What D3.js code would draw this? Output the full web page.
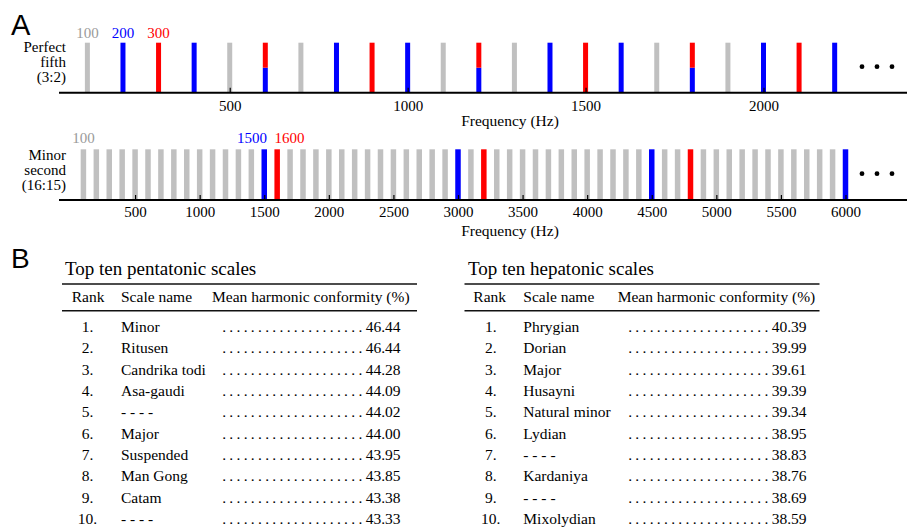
<!DOCTYPE html>
<html>
<head>
<meta charset="utf-8">
<script src="https://cdn.jsdelivr.net/npm/d3@7"></script>
<style>
  body { margin: 0; background: #fff; }
  svg { display: block; }
</style>
</head>
<body>
<div id="container"></div>
<script>
// ---- panel A, perfect fifth (3:2) ----
const topGray = [100, 500, 700, 1100, 1300, 1700, 1900];
const topBlue = [200, 400, 800, 1000, 1400, 1600, 2000, 2200];
const topRed = [300, 900, 1500, 2100];
const topShared = [600, 1200, 1800];
const topTicks = [500, 1000, 1500, 2000];
const topLabels = [100, 200, 300];

// ---- panel A, minor second (16:15) ----
const botGray = [100, 200, 300, 400, 500, 600, 700, 800, 900, 1000, 1100, 1200, 1300, 1400,
  1700, 1800, 1900, 2000, 2100, 2200, 2300, 2400, 2500, 2600, 2700, 2800, 2900,
  3100, 3300, 3400, 3500, 3600, 3700, 3800, 3900, 4000, 4100, 4200, 4300, 4400,
  4600, 4700, 4900, 5000, 5100, 5200, 5300, 5400, 5500, 5600, 5700, 5800, 5900];
const botBlue = [1500, 3000, 4500, 6000];
const botRed = [1600, 3200, 4800];
const botTicks = [500, 1000, 1500, 2000, 2500, 3000, 3500, 4000, 4500, 5000, 5500, 6000];
const botLabels = [100, 1500, 1600];

// ---- panel B tables ----
const ranks = [1, 2, 3, 4, 5, 6, 7, 8, 9, 10];
const pentaNames = ["Minor", "Ritusen", "Candrika todi", "Asa-gaudi", "- - - -",
  "Major", "Suspended", "Man Gong", "Catam", "- - - -"];
const pentaValues = [46.44, 46.44, 44.28, 44.09, 44.02, 44.00, 43.95, 43.85, 43.38, 43.33];
const heptaNames = ["Phrygian", "Dorian", "Major", "Husayni", "Natural minor",
  "Lydian", "- - - -", "Kardaniya", "- - - -", "Mixolydian"];
const heptaValues = [40.39, 39.99, 39.61, 39.39, 39.34, 38.95, 38.83, 38.76, 38.69, 38.59];
const headers = ["Rank", "Scale name", "Mean harmonic conformity (%)"];

const W = 915, H = 529;
const serif = '"Liberation Serif", "Times New Roman", serif';
const sans = '"Liberation Sans", Arial, sans-serif';
const col = { gray: "#c0c0c0", blue: "#0000ff", red: "#ff0000" };
const textCol = { gray: "#9a9a9a", blue: "#0000ff", red: "#ff0000" };
const ink = '#000';

const svg = d3.select('#container').append('svg')
  .attr('width', W).attr('height', H)
  .attr('font-family', serif);

// panel letters
svg.append('text').attr('x', 11).attr('y', 35).attr('font-family', sans)
  .attr('font-size', 29).attr('fill', ink).text('A');
svg.append('text').attr('x', 11).attr('y', 268).attr('font-family', sans)
  .attr('font-size', 28).attr('fill', ink).text('B');

function colorOf(f, blue, red) {
  if (blue.includes(f)) return 'blue';
  if (red.includes(f)) return 'red';
  return 'gray';
}

function drawPanel(p) {
  const g = svg.append('g');
  const x = d3.scaleLinear().domain([0, p.refF]).range([p.x0, p.xRef]);
  const y = d3.scaleLinear().domain([0, 1]).range([p.axisY, p.barTop]);

  g.selectAll('rect.bar')
    .data(p.bars)
    .enter()
    .append('rect')
    .attr('class', 'bar')
    .attr('x', d => x(d.f) - p.barW / 2)
    .attr('y', d => y(d.hi))
    .attr('width', p.barW)
    .attr('height', d => y(d.lo) - y(d.hi))
    .attr('fill', d => col[d.c]);

  // axis, ticks point up into the bars
  const axis = d3.axisBottom(x).tickValues(p.ticks).tickSize(-5)
    .tickPadding(p.pad).tickFormat(d => d);
  const ax = g.append('g')
    .attr('transform', `translate(0,${p.axisY})`)
    .call(axis)
    .attr('font-family', serif)
    .attr('font-size', 15);
  ax.select('.domain').remove();
  ax.selectAll('.tick line').attr('stroke', ink).attr('stroke-width', 1.2);
  ax.selectAll('.tick text').attr('fill', ink);
  g.append('line')
    .attr('x1', 59).attr('x2', 907)
    .attr('y1', p.axisY).attr('y2', p.axisY)
    .attr('stroke', ink).attr('stroke-width', 2);

  // frequency labels above bars
  const side = d => p.sideLabels ? colorOf(d, p.blue, p.red) : 'gray';
  g.selectAll('text.flab')
    .data(p.labels)
    .enter()
    .append('text')
    .attr('class', 'flab')
    .attr('x', d => side(d) === 'blue' ? x(d) + p.barW / 2
      : side(d) === 'red' ? x(d) - p.barW / 2 : x(d))
    .attr('y', p.labelY)
    .attr('text-anchor', d => side(d) === 'blue' ? 'end'
      : side(d) === 'red' ? 'start' : 'middle')
    .attr('font-size', 15)
    .attr('fill', d => textCol[colorOf(d, p.blue, p.red)])
    .text(d => d);

  // interval name
  g.selectAll('text.ylab')
    .data(p.name)
    .enter()
    .append('text')
    .attr('class', 'ylab')
    .attr('x', 66)
    .attr('y', (d, i) => p.nameY + i * 15)
    .attr('text-anchor', 'end')
    .attr('font-size', 15)
    .attr('fill', ink)
    .text(d => d);

  g.append('text')
    .attr('x', 510).attr('y', p.titleY)
    .attr('text-anchor', 'middle')
    .attr('font-size', 15.5)
    .attr('fill', ink)
    .text('Frequency (Hz)');

  // continuation dots
  g.selectAll('circle')
    .data([862, 877, 892])
    .enter()
    .append('circle')
    .attr('cx', d => d)
    .attr('cy', (p.axisY + p.barTop) / 2 - 1)
    .attr('r', 2.4)
    .attr('fill', ink);
}

const topBars = [].concat(
  topGray.map(f => ({ f, c: 'gray', lo: 0, hi: 1 })),
  topBlue.map(f => ({ f, c: 'blue', lo: 0, hi: 1 })),
  topRed.map(f => ({ f, c: 'red', lo: 0, hi: 1 })),
  topShared.map(f => ({ f, c: 'blue', lo: 0, hi: 0.5 })),
  topShared.map(f => ({ f, c: 'red', lo: 0.5, hi: 1 }))
);
const botBars = [].concat(
  botGray.map(f => ({ f, c: 'gray', lo: 0, hi: 1 })),
  botBlue.map(f => ({ f, c: 'blue', lo: 0, hi: 1 })),
  botRed.map(f => ({ f, c: 'red', lo: 0, hi: 1 }))
);

drawPanel({
  bars: topBars, ticks: topTicks, labels: topLabels,
  blue: topBlue, red: topRed, sideLabels: false,
  refF: 2000, x0: 51.8, xRef: 763.5, barW: 5,
  axisY: 92.7, barTop: 42.7, pad: 8, labelY: 38.3,
  name: ["Perfect", "fifth", "(3:2)"], nameY: 51.5, titleY: 125.5
});
drawPanel({
  bars: botBars, ticks: botTicks, labels: botLabels,
  blue: botBlue, red: botRed, sideLabels: true,
  refF: 6000, x0: 70.5, xRef: 845.5, barW: 5.5,
  axisY: 200, barTop: 149.3, pad: 6, labelY: 143.3,
  name: ["Minor", "second", "(16:15)"], nameY: 160, titleY: 235.5
});

// ---- tables ----
function drawTable(title, names, values, L) {
  const g = svg.append('g');
  const rowY = d3.scaleLinear().domain([0, 9]).range([332, 524.2]);

  g.append('text').attr('x', L.titleX).attr('y', 274.5)
    .attr('font-size', 19).attr('fill', ink).text(title);

  [284, 310.7].forEach(yy => {
    g.append('line').attr('x1', L.x0).attr('x2', L.x1)
      .attr('y1', yy).attr('y2', yy)
      .attr('stroke', '#111').attr('stroke-width', 1.4);
  });

  const hx = [L.rankHead, L.nameX, L.headX];
  g.selectAll('text.head')
    .data(headers)
    .enter()
    .append('text')
    .attr('class', 'head')
    .attr('x', (d, i) => hx[i])
    .attr('y', 301.5)
    .attr('font-size', 15.5)
    .attr('fill', ink)
    .text(d => d);

  const rows = g.selectAll('g.row')
    .data(ranks.map((r, i) => ({ r, name: names[i], v: values[i] })))
    .enter()
    .append('g')
    .attr('class', 'row')
    .attr('transform', (d, i) => `translate(0,${rowY(i)})`)
    .attr('font-size', 15.5)
    .attr('fill', ink);

  rows.append('text')
    .attr('x', L.rankX)
    .attr('text-anchor', 'middle')
    .text(d => d.r + '.');

  rows.append('text')
    .attr('x', L.nameX)
    .text(d => d.name);

  // dotted leader then the value
  const lead = rows.append('text')
    .attr('x', L.valX)
    .attr('text-anchor', 'end');
  lead.append('tspan')
    .attr('letter-spacing', 3.3)
    .text('....................');
  lead.append('tspan')
    .text(d => d.v.toFixed(2));
}

drawTable('Top ten pentatonic scales', pentaNames, pentaValues, {
  titleX: 65, x0: 62, x1: 417, rankHead: 71.7, rankX: 87.5,
  nameX: 121, headX: 212, valX: 400.5
});
drawTable('Top ten hepatonic scales', heptaNames, heptaValues, {
  titleX: 468, x0: 464.5, x1: 819.5, rankHead: 473.3, rankX: 490.8,
  nameX: 523.3, headX: 617.7, valX: 806.5
});
</script>
</body>
</html>
